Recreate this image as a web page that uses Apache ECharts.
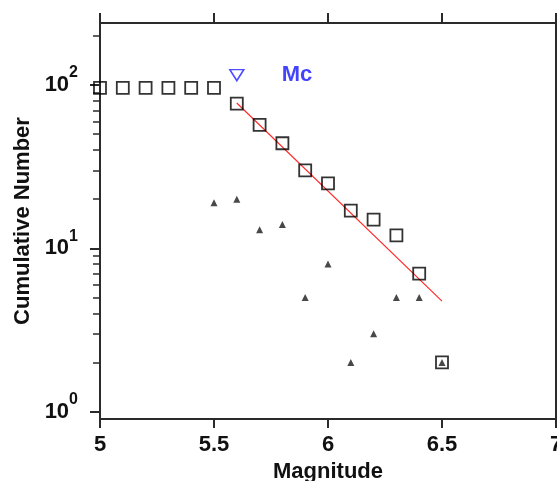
<!DOCTYPE html>
<html>
<head>
<meta charset="utf-8">
<script src="https://cdn.jsdelivr.net/npm/echarts@6/dist/echarts.min.js"></script>
<style>
  html, body { margin: 0; padding: 0; background: #fff; }
  #chart { width: 557px; height: 481px; }
</style>
</head>
<body>
<div id="chart"></div>
<script>
// magnitude bins and the cumulative count at or above each one
const magnitudes = [5.0, 5.1, 5.2, 5.3, 5.4, 5.5, 5.6, 5.7, 5.8, 5.9, 6.0, 6.1, 6.2, 6.3, 6.4, 6.5];
const cumulative = [96, 96, 96, 96, 96, 96, 77, 57, 44, 30, 25, 17, 15, 12, 7, 2];

// non-cumulative counts per bin (small triangles)
const binMags = [5.5, 5.6, 5.7, 5.8, 5.9, 6.0, 6.1, 6.2, 6.3, 6.4, 6.5];
const binCounts = [19, 20, 13, 14, 5, 8, 2, 3, 5, 5, 2];

// fitted G-R line, ends
const fitMags = [5.6, 6.5];
const fitCounts = [77.6, 4.75];

// Mc marker
const mcMag = [5.6];
const mcCount = [115];

const yMin = 0.9, yMax = 240;
const majorTicks = [1, 10, 100];
const minorTicks = [2, 3, 4, 5, 6, 7, 8, 9, 20, 30, 40, 50, 60, 70, 80, 90, 200];

const lg = Math.log10;
const axisColor = '#2a2a2a';
const fontFam = '"Liberation Sans", Arial, sans-serif';

const chart = echarts.init(document.getElementById('chart'), null, { renderer: 'canvas' });

const baseY = {
  type: 'value',
  min: lg(yMin),
  max: lg(yMax),
  splitLine: { show: false },
  axisLine: { show: false },
  axisLabel: { show: false },
  axisTick: { show: false }
};

const option = {
  animation: false,
  backgroundColor: '#fff',
  grid: { left: 100, right: 1, top: 23, bottom: 62, outerBoundsMode: 'none' },
  xAxis: [
    {
      type: 'value', position: 'bottom', min: 5, max: 7, interval: 0.5,
      splitLine: { show: false },
      axisLine: { onZero: false, lineStyle: { color: axisColor, width: 2 } },
      axisTick: { inside: false, length: 9, lineStyle: { color: axisColor, width: 2 } },
      axisLabel: {
        margin: 15, color: '#111', fontSize: 22, fontWeight: 'bold', fontFamily: fontFam,
        formatter: v => String(v)
      },
      name: 'Magnitude', nameLocation: 'middle', nameGap: 41,
      nameTextStyle: { color: '#111', fontSize: 22, fontWeight: 'bold', fontFamily: fontFam }
    },
    {
      type: 'value', position: 'top', min: 5, max: 7, interval: 0.5,
      splitLine: { show: false },
      axisLine: { onZero: false, lineStyle: { color: axisColor, width: 2 } },
      axisTick: { inside: false, length: 10, lineStyle: { color: axisColor, width: 2 } },
      axisLabel: { show: false }
    }
  ],
  yAxis: [
    Object.assign({}, baseY, {
      position: 'left',
      axisLine: { show: true, onZero: false, lineStyle: { color: axisColor, width: 2 } },
      axisTick: { show: true, length: 10, customValues: majorTicks.map(lg), lineStyle: { color: axisColor, width: 2 } },
      axisLabel: {
        show: true, margin: 22, customValues: majorTicks.map(lg),
        formatter: v => '{b|10}{s|' + Math.round(v) + '}',
        rich: {
          b: { fontSize: 22, fontWeight: 'bold', color: '#111', fontFamily: fontFam },
          s: { fontSize: 16, fontWeight: 'bold', color: '#111', fontFamily: fontFam, padding: [0, 0, 24, 0] }
        }
      },
      name: 'Cumulative Number', nameLocation: 'middle', nameGap: 66,
      nameTextStyle: { color: '#111', fontSize: 22, fontWeight: 'bold', fontFamily: fontFam }
    }),
    Object.assign({}, baseY, {
      position: 'left',
      axisTick: { show: true, length: 7, customValues: minorTicks.map(lg), lineStyle: { color: axisColor, width: 1.5 } }
    }),
    Object.assign({}, baseY, {
      position: 'right',
      axisLine: { show: true, onZero: false, lineStyle: { color: axisColor, width: 2 } },
      axisTick: { show: true, length: 7, customValues: minorTicks.map(lg), lineStyle: { color: axisColor, width: 1.5 } }
    })
  ],
  series: [
    {
      type: 'line',
      data: fitMags.map((m, i) => [m, lg(fitCounts[i])]),
      showSymbol: false,
      lineStyle: { color: '#ff2a2a', width: 1.2 },
      z: 2
    },
    {
      type: 'scatter',
      data: binMags.map((m, i) => [m, lg(binCounts[i])]),
      symbol: 'triangle', symbolSize: 7,
      itemStyle: { color: '#1a1a1a' },
      z: 3
    },
    {
      type: 'scatter',
      data: magnitudes.map((m, i) => [m, lg(cumulative[i])]),
      symbol: 'rect', symbolSize: 12,
      itemStyle: { color: 'rgba(0,0,0,0)', borderColor: '#000', borderWidth: 1.8 },
      z: 4
    },
    {
      type: 'scatter',
      data: mcMag.map((m, i) => [m, lg(mcCount[i])]),
      symbol: 'triangle', symbolRotate: 180, symbolSize: [14, 11],
      itemStyle: { color: 'rgba(0,0,0,0)', borderColor: '#2020ff', borderWidth: 1.5 },
      label: {
        show: true, position: 'right', distance: 37, formatter: 'Mc',
        color: '#1414ff', fontSize: 22, fontWeight: 'bold', fontFamily: fontFam
      },
      z: 5
    }
  ]
};

chart.setOption(option);
</script>
</body>
</html>
